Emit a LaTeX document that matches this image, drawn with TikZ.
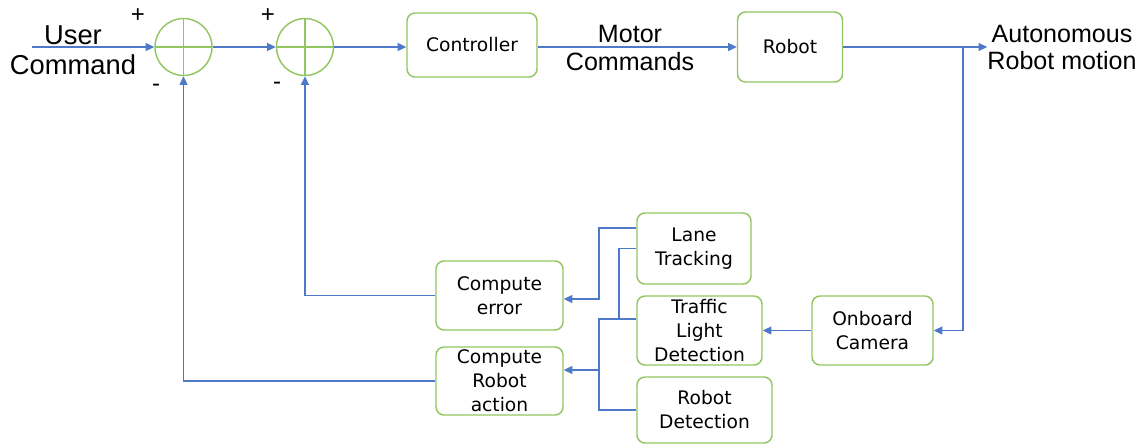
\documentclass[tikz,border=0pt]{standalone}
\usepackage{fontspec}
\setmainfont{DejaVu Sans}
\newfontfamily\labelfont{Liberation Sans}
\usepackage{xcolor}
\usepackage{tikz}
\usetikzlibrary{positioning, arrows.meta}

\definecolor{boxgreen}{RGB}{146,198,98}
\definecolor{lineblue}{RGB}{78,121,200}

\begin{document}
\begin{tikzpicture}[
        x=0.75pt, y=0.75pt,
        block/.style={draw=boxgreen, line width=1.1pt, rounded corners=6pt, fill=white, align=center, font=\fontsize{14}{18}\selectfont, inner sep=1pt},
        sumjunc/.style={circle, draw=boxgreen, line width=1.1pt, minimum size=42.75pt, inner sep=0pt,
            path picture={\draw[boxgreen, line width=1.1pt] (path picture bounding box.north) -- (path picture bounding box.south)
                (path picture bounding box.west) -- (path picture bounding box.east);}},
        link/.style={lineblue, line width=0.9pt, -{Triangle[length=6.5pt, width=6pt]}},
        wire/.style={lineblue, line width=0.9pt},
        biglabel/.style={align=center, inner sep=0pt, font=\labelfont\fontsize{18.8}{20.8}\selectfont},
        sign/.style={inner sep=0pt, font=\labelfont\fontsize{18}{18}\selectfont}
    ]
    \useasboundingbox (0,0) rectangle (1142,-444);

    % Forward path
    \coordinate (cmdin) at (32,-47);
    \node[sumjunc] (suma) at (183.5,-47) {};
    \node[sumjunc, right=47.25pt of suma] (sumb) {};
    \node[block, minimum width=97.5pt, minimum height=48pt] (ctrl) at (472,-45) {Controller};
    \node[block, minimum width=78.75pt, minimum height=52.5pt] (robot) at (790,-47) {Robot};

    % Signs
    \node[sign] (plusa) at (138,-16) {+};
    \node[sign] (minusa) at (156,-88) {-};
    \node[sign] (plusb) at (268,-16) {+};
    \node[sign] (minusb) at (277,-86) {-};

    % Labels
    \node[biglabel, font=\labelfont\fontsize{20.5}{22.5}\selectfont] (usercmd) at (73,-50) {User\\Command};
    \node[biglabel] (motorcmd) at (630,-48) {Motor\\Commands};
    \node[biglabel] (outlbl) at (1062,-47.5) {Autonomous\\Robot motion};

    % Sensing row
    \node[block, minimum width=90.75pt, minimum height=51.75pt] (cam) at (872.5,-330.5) {Onboard\\Camera};
    \node[block, minimum width=93.75pt, minimum height=51.75pt] (traf) at (699.5,-330.5) {Traffic\\Light\\Detection};
    \node[block, minimum width=85.5pt, minimum height=53.25pt] (lane) at (694,-248.5) {Lane\\Tracking};
    \node[block, minimum width=101.25pt, minimum height=49.5pt] (robd) at (704.5,-410) {Robot\\Detection};

    % Compute blocks
    \node[block, minimum width=95.25pt, minimum height=51.75pt] (err) at (499.5,-295.5) {Compute\\error};
    \node[block, minimum width=95.25pt, minimum height=51pt] (act) at (499.5,-381) {Compute\\Robot\\action};

    % Edges - forward path
    \draw[link] (cmdin) -- (suma.west);
    \draw[link] (suma.east) -- (sumb.west);
    \draw[link] (sumb.east) -- (sumb.east -| ctrl.west);
    \draw[link] (ctrl.east |- robot.west) -- (robot.west);
    \draw[link] (robot.east) -- (robot.east -| outlbl.west);

    % Camera tap
    \coordinate (tap) at (963,-47);
    \draw[link] (tap) |- (cam.east);
    \draw[link] (cam.west) -- (traf.east);

    % Detection outputs
    \coordinate (busa) at (599,-299);
    \coordinate (busb) at (599,-370);
    \coordinate (tapl) at (619,-319);
    \draw[link] ([yshift=15.4pt]lane.west) -| (busa) -- (busa -| err.east);
    \draw[wire] (lane.west) -| (tapl);
    \draw[wire] ([yshift=8.6pt]traf.west) -| (busb);
    \draw[wire] (robd.west) -| (busb);
    \draw[link] (busb) -- (busb -| act.east);

    % Feedback
    \draw[link] (err.west) -| (sumb.south);
    \draw[link] (act.west) -| (suma.south);

\end{tikzpicture}
\end{document}
